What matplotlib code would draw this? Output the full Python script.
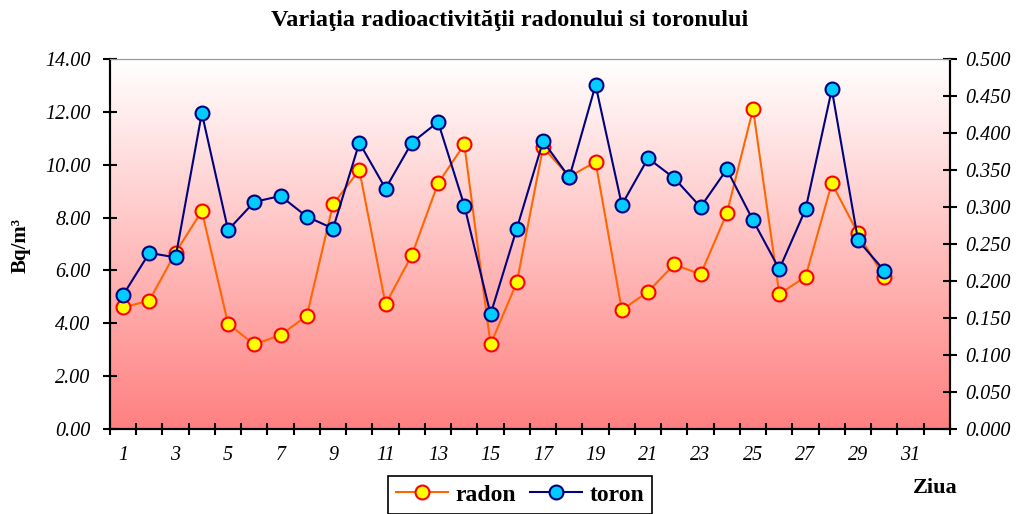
import matplotlib
matplotlib.use('Agg')
import matplotlib.pyplot as plt
import numpy as np
from matplotlib.colors import LinearSegmentedColormap

plt.rcParams['font.family'] = ['Liberation Serif', 'DejaVu Serif']

# date
zile = list(range(1, 33))
radon = [4.60, 4.86, 6.68, 8.25, 3.98, 3.20, 3.56, 4.28, 8.51, 9.80,
         4.72, 6.58, 9.30, 10.77, 3.20, 5.55, 10.66, 9.55, 10.11, 4.50,
         5.20, 6.23, 5.85, 8.16, 12.11, 5.11, 5.76, 9.30, 7.40, 5.74]
toron = [0.181, 0.238, 0.232, 0.427, 0.269, 0.307, 0.315, 0.287, 0.271, 0.387,
         0.325, 0.387, 0.415, 0.302, 0.155, 0.271, 0.389, 0.340, 0.465, 0.303,
         0.366, 0.339, 0.300, 0.351, 0.282, 0.216, 0.297, 0.459, 0.255, 0.214]
etichete = [str(z) for z in range(1, 32, 2)]

fig = plt.figure(figsize=(10.2, 5.14), dpi=100)
ax = fig.add_axes([0.1078, 0.1654, 0.8235, 0.7196])

# fundal in degrade alb -> rosu deschis
cmap = LinearSegmentedColormap.from_list('fundal', ['#FF8080', '#FFFFFF'])
grad = np.linspace(0, 1, 256).reshape(-1, 1)
ax.imshow(grad, cmap=cmap, aspect='auto', extent=[0, 1, 0, 1],
          transform=ax.transAxes, origin='lower', zorder=0)

x_r = zile[:len(radon)]
ax.plot(x_r, radon, color='#FF6600', lw=1.5, marker='o', markersize=10,
        markerfacecolor='#FFFF00', markeredgecolor='#FF0000', markeredgewidth=1.5,
        label='radon', zorder=3)
ax.set_xlim(0.5, 32.5)
ax.set_ylim(0, 14)
ax.set_yticks(np.arange(0, 14.01, 2))
ax.set_yticklabels(['%.2f' % v for v in np.arange(0, 14.01, 2)])

ax2 = ax.twinx()
x_t = zile[:len(toron)]
ax2.plot(x_t, toron, color='#000080', lw=1.5, marker='o', markersize=10,
         markerfacecolor='#00CCFF', markeredgecolor='#000080', markeredgewidth=1.5,
         label='toron', zorder=3)
ax2.set_ylim(0, 0.5)
ax2.set_yticks(np.arange(0, 0.501, 0.05))
ax2.set_yticklabels(['%.3f' % v for v in np.arange(0, 0.501, 0.05)])

ax.set_xticks(range(1, 32, 2))
ax.set_xticklabels(etichete)
ax.set_xticks(np.arange(0.5, 33, 1), minor=True)
ax.tick_params(axis='x', which='major', length=0, pad=12)
ax.tick_params(axis='x', which='minor', length=9, width=1.5, direction='inout')

ax.tick_params(axis='y', length=10, width=1.5, direction='inout', pad=9)
ax2.tick_params(axis='y', length=10, width=1.5, direction='inout', pad=6)
for a in (ax, ax2):
    for lbl in a.get_yticklabels() + a.get_xticklabels():
        lbl.set_fontstyle('italic')
        lbl.set_fontsize(14.5)
    a.spines['top'].set_color('#999999')
    a.spines['left'].set_linewidth(1.5)
    a.spines['right'].set_linewidth(1.5)
    a.spines['bottom'].set_linewidth(1.5)

fig.text(0.5, 0.96, 'Variaţia radioactivităţii radonului si toronului',
         ha='center', va='center', fontsize=17.5, fontweight='bold')
fig.text(0.02, 0.523, 'Bq/m³', rotation=90, ha='center', va='center',
         fontsize=15, fontweight='bold')
fig.text(0.917, 0.05, 'Ziua', ha='center', va='center',
         fontsize=16, fontweight='bold')

h1, l1 = ax.get_legend_handles_labels()
h2, l2 = ax2.get_legend_handles_labels()
leg = fig.legend(h1 + h2, l1 + l2, loc='upper center', bbox_to_anchor=(0.51, 0.074),
                 ncol=2, fancybox=False, edgecolor='black', framealpha=1,
                 prop={'weight': 'bold', 'size': 17}, handlelength=2.2,
                 columnspacing=0.6, handletextpad=0.3, borderpad=0.35,
                 borderaxespad=0)
leg.get_frame().set_linewidth(1.2)

fig.savefig('out.png', dpi=100)
